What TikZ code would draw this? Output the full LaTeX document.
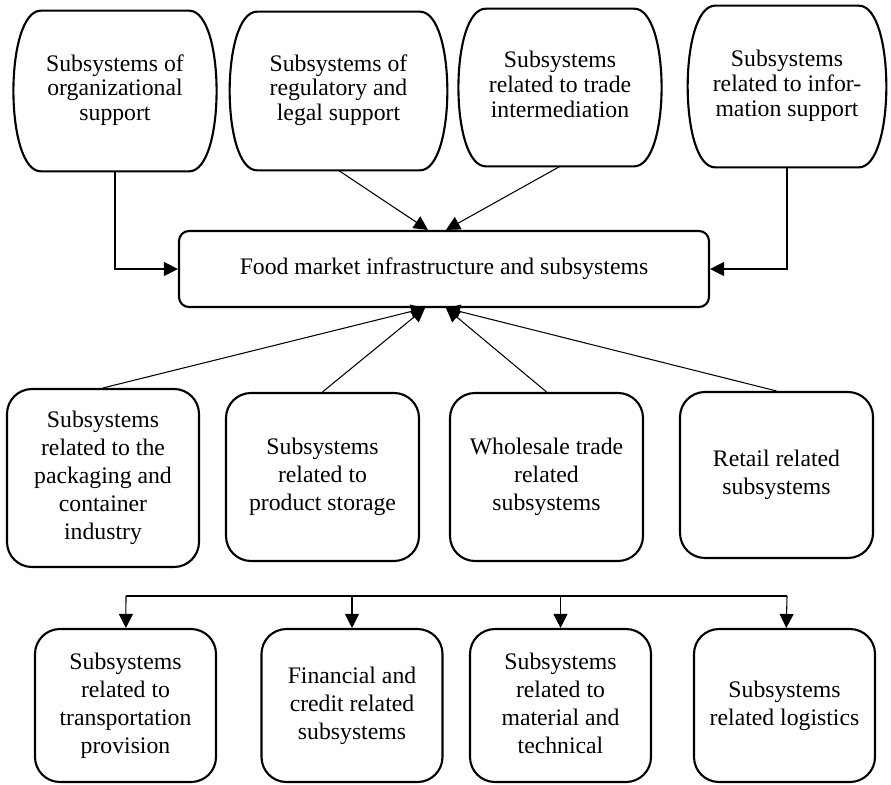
\documentclass[tikz,border=0pt]{standalone}
\usepackage{fontspec}
\setmainfont{Liberation Serif}
\usepackage{tikz}
\usetikzlibrary{arrows.meta,positioning}

\tikzset{
    bulgebox/.style={rectangle, minimum width=4.05cm, minimum height=3.2cm, inner sep=0pt, font=\fontsize{13.5}{14.2}\selectfont},
    infrabox/.style={draw, line width=1.2pt, rectangle, rounded corners=0.2cm, minimum width=10.6cm, minimum height=1.52cm, font=\fontsize{13.5}{14.2}\selectfont},
    subbox/.style={draw, line width=1.2pt, rectangle, rounded corners=0.5cm, minimum width=3.86cm, minimum height=3.36cm, inner sep=0pt, font=\fontsize{13.5}{15.9}\selectfont},
    lowbox/.style={subbox, minimum width=3.62cm, minimum height=3.06cm},
    tip/.style={line width=0.6pt, -{Triangle[length=0.28cm, width=0.28cm]}}
}

% outline with bulging sides for the upper boxes
\newcommand{\bulgeoutline}[1]{
    \draw [line width=1.2pt] ([xshift=0.55cm]#1.north west) -- ([xshift=-0.55cm]#1.north east)
        .. controls ([xshift=0.183cm]#1.north east) and ([xshift=0.183cm]#1.south east) .. ([xshift=-0.55cm]#1.south east)
        -- ([xshift=0.55cm]#1.south west)
        .. controls ([xshift=-0.183cm]#1.south west) and ([xshift=-0.183cm]#1.north west) .. cycle;
}

\begin{document}
\begin{tikzpicture}
    \useasboundingbox (0,0) rectangle (17.82,-15.68);

    \node (org_support) at (2.3,-1.82) [bulgebox] {\begin{tabular}{c} Subsystems of \\ organizational \\ support \end{tabular}};

    \node (legal_support) [bulgebox, right of=org_support, xshift=3.47cm, minimum width=4.34cm, minimum height=3.16cm] {\begin{tabular}{c} Subsystems of \\ regulatory and \\ legal support \end{tabular}};

    \node (trade_inter) [bulgebox, right of=legal_support, xshift=3.43cm, yshift=0.07cm, minimum height=3.14cm] {\begin{tabular}{c} Subsystems \\ related to trade \\ intermediation \end{tabular}};

    \node (info_support) [bulgebox, right of=trade_inter, xshift=3.54cm, yshift=0.02cm, minimum width=3.96cm, minimum height=3.22cm] {\begin{tabular}{c} Subsystems \\ related to infor- \\ mation support \end{tabular}};

    \bulgeoutline{org_support}
    \bulgeoutline{legal_support}
    \bulgeoutline{trade_inter}
    \bulgeoutline{info_support}

    \node (infra) at (8.88,-5.38) [infrabox] {Food market infrastructure and subsystems};

    \draw [tip] (org_support.south) |- (infra.west);
    \draw [tip] (legal_support.south) -- ([xshift=-0.32cm]infra.north);
    \draw [tip] (trade_inter.south) -- ([xshift=0.04cm]infra.north);
    \draw [tip] (info_support.south) |- (infra.east);


    \node (packaging) at (2.06,-9.56) [subbox, minimum width=3.84cm, minimum height=3.56cm] {\begin{tabular}{c} Subsystems \\ related to the \\ packaging and \\ container \\ industry \end{tabular}};

    \node (storage) [subbox, right of=packaging, xshift=3.39cm, yshift=0.02cm] {\begin{tabular}{c} Subsystems \\ related to \\ product storage \end{tabular}};

    \node (wholesale) [subbox, right of=storage, xshift=3.48cm] {\begin{tabular}{c} Wholesale trade \\ related \\ subsystems \end{tabular}};

    \node (retail) [subbox, right of=wholesale, xshift=3.6cm, yshift=0.04cm, minimum height=3.32cm] {\begin{tabular}{c} Retail related \\ subsystems \end{tabular}};

    \draw [tip] (packaging.north) -- ([xshift=-0.38cm]infra.south);
    \draw [tip] (storage.north) -- ([xshift=-0.38cm]infra.south);
    \draw [tip] (wholesale.north) -- ([xshift=0.04cm]infra.south);
    \draw [tip] (retail.north) -- ([xshift=0.04cm]infra.south);


    \node (transport) at (2.51,-14.11) [lowbox] {\begin{tabular}{c} Subsystems \\ related to \\ transportation \\ provision \end{tabular}};

    \node (finance) [lowbox, right of=transport, xshift=3.53cm] {\begin{tabular}{c} Financial and \\ credit related \\ subsystems \end{tabular}};

    \node (material) [lowbox, right of=finance, xshift=3.17cm] {\begin{tabular}{c} Subsystems \\ related to \\ material and \\ technical \end{tabular}};

    \node (logistics) [lowbox, right of=material, xshift=3.48cm] {\begin{tabular}{c} Subsystems \\ related logistics \end{tabular}};

    \coordinate (bus_left) at (2.52,-11.92);
    \coordinate (bus_right) at (15.74,-11.92);
    \draw [line width=0.6pt] (bus_left) -- (bus_right);
    \draw [tip] (bus_left) -- (transport);
    \draw [tip] (finance |- bus_left) -- (finance);
    \draw [tip] (material |- bus_left) -- (material);
    \draw [tip] (bus_right) -- (logistics);
\end{tikzpicture}
\end{document}
